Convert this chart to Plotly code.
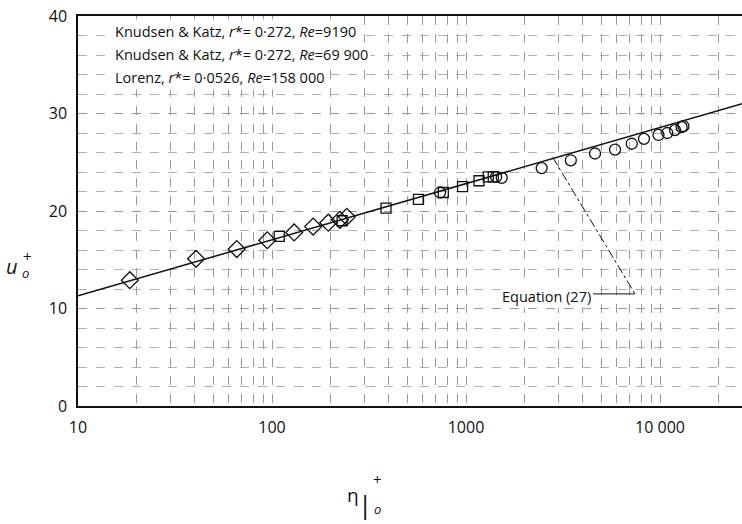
import plotly.graph_objects as go

# ---- data ----
diamond_x = [18.5, 40.6, 65.8, 94.6, 130, 163, 195, 224, 243]
diamond_y = [12.9, 15.1, 16.1, 17.0, 17.8, 18.4, 18.8, 19.1, 19.4]

square_x = [109, 230, 387, 569, 764, 960, 1167, 1303, 1382]
square_y = [17.4, 19.0, 20.3, 21.2, 21.9, 22.5, 23.1, 23.5, 23.5]

circle_x = [735, 1430, 1528, 2455, 3470, 4625, 5865, 7150, 8270, 9820,
            10900, 11950, 12920, 13200]
circle_y = [21.9, 23.5, 23.4, 24.4, 25.2, 25.9, 26.3, 26.9, 27.4, 27.8,
            28.0, 28.3, 28.6, 28.7]

eq_x = [10, 26500]
eq_y = [11.3, 31.0]

leader_diag_x = [2800, 7430]
leader_diag_y = [25.5, 11.5]
leader_h_x = [4520, 7430]
leader_h_y = [11.5, 11.5]

x_tickvals = [10, 100, 1000, 10000]
x_ticktext = ["10", "100", "1000", "10 000"]
y_tickvals = [0, 10, 20, 30, 40]

legend_lines = [
    "Knudsen & Katz, <i>r</i>*= 0·272, <i>Re</i>=9190",
    "Knudsen & Katz, <i>r</i>*= 0·272, <i>Re</i>=69 900",
    "Lorenz, <i>r</i>*= 0·0526, <i>Re</i>=158 000",
]

# grid positions (graph paper)
x_grid = [m * 10 ** k for k in range(1, 5) for m in range(1, 10)]
x_grid = [v for v in x_grid if v <= 26500]

# ---- layout geometry ----
W, H = 742, 524
L, R, T, B = 78, 0, 16, 118
PW, PH = W - L - R, H - T - B


def px(x):
    return (x - L) / PW


def py(y):
    return (H - B - y) / PH


FONT = "Open Sans"
BLACK = "#111111"

fig = go.Figure()

fig.add_trace(go.Scatter(x=eq_x, y=eq_y, mode="lines",
                         line=dict(color=BLACK, width=1.5), showlegend=False))
fig.add_trace(go.Scatter(x=leader_diag_x, y=leader_diag_y, mode="lines",
                         line=dict(color=BLACK, width=1, dash="dashdot"),
                         showlegend=False))
fig.add_trace(go.Scatter(x=leader_h_x, y=leader_h_y, mode="lines",
                         line=dict(color=BLACK, width=1), showlegend=False))

fig.add_trace(go.Scatter(x=diamond_x, y=diamond_y, mode="markers",
                         marker=dict(symbol="diamond-open", size=13,
                                     color=BLACK, line=dict(width=1.3)),
                         showlegend=False))
fig.add_trace(go.Scatter(x=square_x, y=square_y, mode="markers",
                         marker=dict(symbol="square-open", size=10,
                                     color=BLACK, line=dict(width=1.3)),
                         showlegend=False))
fig.add_trace(go.Scatter(x=circle_x, y=circle_y, mode="markers",
                         marker=dict(symbol="circle-open", size=11,
                                     color=BLACK, line=dict(width=1.3)),
                         showlegend=False))

# invisible trace to hold the overlay grid axis
fig.add_trace(go.Scatter(x=[10], y=[0], xaxis="x2", mode="markers",
                         marker=dict(opacity=0), showlegend=False,
                         hoverinfo="skip"))


def label(text, x, y, size, **kw):
    d = dict(text=text, x=px(x), y=py(y), xref="paper", yref="paper",
             xanchor="center", yanchor="middle", showarrow=False,
             font=dict(family=FONT, size=size, color=BLACK))
    d.update(kw)
    return d


annotations = []
for i, t in enumerate(legend_lines):
    annotations.append(label(t, 112, 32 + 22.5 * i, 14.5, xanchor="left",
                             bgcolor="white", borderpad=2))

annotations.append(label("Equation (27)", 593, 296, 14.5, xanchor="right",
                         bgcolor="white"))

# y title u_o^+
annotations += [
    label("<i>u</i>", 12, 266, 20),
    label("+", 28, 256, 15),
    label("<i>o</i>", 25, 273, 13),
]
# x title eta|_o^+
annotations += [
    label("η", 353, 495, 19),
    label("|", 365, 504, 26),
    label("+", 377, 479, 15),
    label("<i>o</i>", 377, 509, 13),
]

fig.update_layout(
    width=W, height=H,
    margin=dict(l=L, r=R, t=T, b=B, pad=0),
    paper_bgcolor="white", plot_bgcolor="white",
    font=dict(family=FONT, size=16, color=BLACK),
    showlegend=False,
    annotations=annotations,
    xaxis=dict(type="log", range=[1, 1 + PW / 194.0],
               tickvals=x_tickvals, ticktext=x_ticktext,
               ticks="", showgrid=False, zeroline=False,
               showline=True, linecolor=BLACK, linewidth=1.5, mirror=True,
               tickfont=dict(size=16), ticklabelstandoff=6),
    xaxis2=dict(type="log", range=[1, 1 + PW / 194.0], overlaying="x",
                tickvals=x_grid, showticklabels=False, ticks="",
                showgrid=True, gridcolor="#9a9a9a", gridwidth=1,
                griddash="dash", zeroline=False, showline=False),
    yaxis=dict(range=[0, 40], tickvals=y_tickvals, ticks="",
               showgrid=True, gridcolor="#9a9a9a", gridwidth=1,
               griddash="dash", zeroline=False,
               minor=dict(dtick=2, showgrid=True, gridcolor="#b0b0b0",
                          griddash="dash", gridwidth=1),
               showline=True, linecolor=BLACK, linewidth=1.5,
               tickfont=dict(size=16), ticklabelstandoff=6),
)

fig.write_html("out.html")
